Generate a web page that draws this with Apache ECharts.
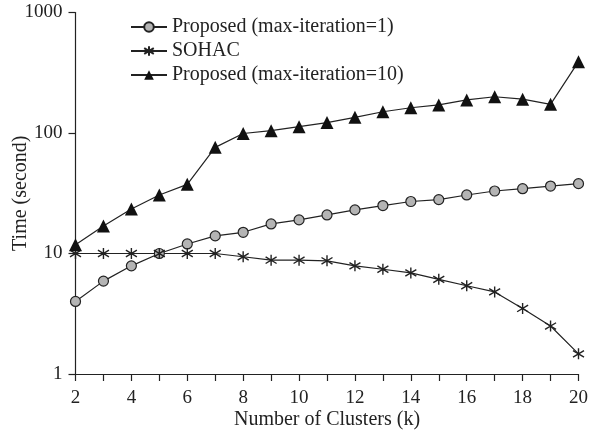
<!DOCTYPE html>
<html><head><meta charset="utf-8">
<script src="https://cdn.jsdelivr.net/npm/echarts@6/dist/echarts.min.js"></script>
<style>html,body{margin:0;padding:0;background:#fff}#c{width:597px;height:431px}</style>
</head><body><div id="c"></div>
<script>
const clusters = [2,3,4,5,6,7,8,9,10,11,12,13,14,15,16,17,18,19,20];
const proposed1 = [4.0,5.9,7.9,10,12,14,15,17.6,19,20.9,23,25,27,28,30.6,33,34.5,36.3,38];
const sohac = [10,10,10,10,10,10,9.4,8.8,8.8,8.7,7.9,7.4,6.9,6.1,5.4,4.8,3.5,2.5,1.47];
const proposed10 = [11.8,16.9,23.4,30.6,37.5,76,99,104.5,112.8,122,135,150,162,171,188,200,191,173,391];
const yTicks = [1,10,100,1000];
const seriesNames = ['Proposed (max-iteration=1)','SOHAC','Proposed (max-iteration=10)'];

const font = 'Liberation Serif';
const star = 'path://M0,-5L0,5M-4.5,-3L4.5,3M-4.5,3L4.5,-3';
const pair = arr => clusters.map((k,i)=>[k,arr[i]]);
const chart = echarts.init(document.getElementById('c'));
chart.setOption({
  animation:false,
  grid:{left:75.5,right:18.5,top:12.5,bottom:57,outerBoundsMode:'none',containLabel:false},
  legend:{
    orient:'vertical',left:125,top:12,itemWidth:36,itemHeight:12,itemGap:4,
    textStyle:{fontFamily:font,fontSize:20,color:'#222'},
    data:seriesNames
  },
  xAxis:{
    type:'value',min:2,max:20,interval:1,
    axisLine:{lineStyle:{color:'#222',width:1.2}},
    axisTick:{show:true,length:7,lineStyle:{color:'#222',width:1.2}},
    axisLabel:{fontFamily:font,fontSize:19,color:'#222',margin:15,
      formatter:v=>(v%2===0?String(v):'')},
    splitLine:{show:false},
    name:'Number of Clusters (k)',nameLocation:'middle',nameGap:36,nameMoveOverlap:false,
    nameTextStyle:{fontFamily:font,fontSize:20,color:'#222'}
  },
  yAxis:{
    type:'log',logBase:10,min:yTicks[0],max:yTicks[yTicks.length-1],
    axisLine:{show:true,lineStyle:{color:'#222',width:1.2}},
    axisTick:{show:true,length:7,lineStyle:{color:'#222',width:1.2}},
    axisLabel:{fontFamily:font,fontSize:19,color:'#222',margin:13,formatter:v=>String(v)},
    splitLine:{show:false},minorTick:{show:false},
    name:'Time (second)',nameLocation:'middle',nameGap:45,nameRotate:90,nameMoveOverlap:false,
    nameTextStyle:{fontFamily:font,fontSize:20,color:'#222'}
  },
  series:[
    {name:seriesNames[0],type:'line',data:pair(proposed1),symbol:'circle',symbolSize:10,
      lineStyle:{color:'#222',width:1.2},
      itemStyle:{color:'#b4b4b4',borderColor:'#222',borderWidth:1.2}},
    {name:seriesNames[1],type:'line',data:pair(sohac),symbol:star,symbolSize:11,
      lineStyle:{color:'#222',width:1.2},
      itemStyle:{color:'#222',borderColor:'#222',borderWidth:1.4}},
    {name:seriesNames[2],type:'line',data:pair(proposed10),symbol:'triangle',symbolSize:13,
      lineStyle:{color:'#222',width:1.2},
      itemStyle:{color:'#111',borderColor:'#111',borderWidth:0}}
  ]
});
</script></body></html>
